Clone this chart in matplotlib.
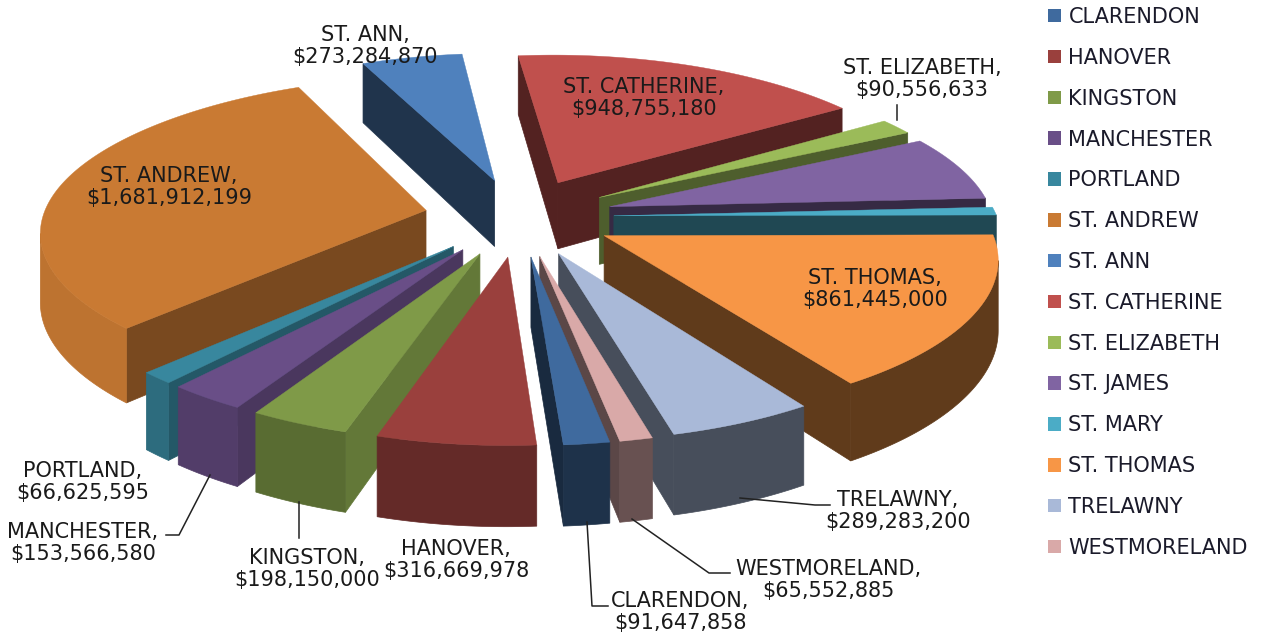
import numpy as np
import matplotlib
matplotlib.use("Agg")
import matplotlib.pyplot as plt
from matplotlib.patches import Polygon, Patch

plt.rcParams['font.family'] = ['DejaVu Sans']

# data (st james and st mary have no label)
parishes = ["CLARENDON", "HANOVER", "KINGSTON", "MANCHESTER", "PORTLAND", "ST. ANDREW", "ST. ANN",
            "ST. CATHERINE", "ST. ELIZABETH", "ST. JAMES", "ST. MARY", "ST. THOMAS", "TRELAWNY",
            "WESTMORELAND"]
values = [91647858, 316669978, 198150000, 153566580, 66625595, 1681912199, 273284870,
          948755180, 90556633, 370000000, 45000000, 861445000, 289283200, 65552885]
colors = ["#3F6A9E", "#9A403D", "#7F9A48", "#694E87", "#38879E", "#C97A33", "#4F81BD",
          "#C0504D", "#9BBB59", "#8064A2", "#4BACC6", "#F79646", "#A9B9D8", "#D9A9A8"]
rim_dark = [0.47, 0.65, 0.70, 0.78, 0.80, 0.94, 0.40, 0.52, 0.50, 0.42, 0.42, 0.39, 0.42, 0.48]
side_dark = [0.40, 0.58, 0.78, 0.70, 0.65, 0.60, 0.40, 0.43, 0.50, 0.42, 0.42, 0.39, 0.42, 0.42]

# label text position, and leader line if there is one
labels = {
    "ST. ANN": (365, 46, None),
    "ST. CATHERINE": (644, 98, None),
    "ST. ELIZABETH": (922, 79, [(897, 105), (897, 120)]),
    "ST. THOMAS": (875, 289, None),
    "ST. ANDREW": (169, 187, None),
    "PORTLAND": (83, 482, None),
    "MANCHESTER": (83, 543, [(166, 535), (179, 535), (210, 475)]),
    "KINGSTON": (307, 569, [(299, 538), (299, 502)]),
    "HANOVER": (456, 560, None),
    "CLARENDON": (680, 612, [(608, 606), (592, 606), (587, 522)]),
    "WESTMORELAND": (828, 580, [(730, 573), (709, 573), (632, 519)]),
    "TRELAWNY": (898, 511, [(830, 505), (815, 505), (740, 498)]),
}

W, H = 1265, 636
cx, cy = 519, 217
R = 372
side_stretch = 0.03
squash = 0.41
persp = 0.13
thick = 68
explode = 95
first_angle = 170


def project(px, py, z=0.0):
    # py goes to the back of the pie
    f = 1 / (1 + persp * py / R)
    return cx + px * f, cy - py * squash * f + z * thick * f


def shade(col, k):
    rgb = np.array(matplotlib.colors.to_rgb(col))
    return tuple(rgb * k)


def signed_area(pts):
    x, y = np.array(pts).T
    return np.sum(x * np.roll(y, -1) - np.roll(x, -1) * y)


fig = plt.figure(figsize=(W / 100, H / 100), dpi=100)
ax = fig.add_axes([0, 0, 1, 1])
ax.set_xlim(0, W)
ax.set_ylim(H, 0)
ax.axis("off")

total = sum(values)
sweeps = np.array(values) / total * 360
starts = first_angle + np.concatenate([[0], np.cumsum(sweeps)[:-1]])
mids = starts + sweeps / 2
# back slices first
order = np.argsort(-np.cos(np.radians(mids)))

for i in order:
    th = np.radians(np.linspace(starts[i], starts[i] + sweeps[i], max(int(sweeps[i]) * 2, 4)))
    mid = np.radians(mids[i])
    ox, oy = explode * np.sin(mid), explode * np.cos(mid)
    rx = R * (1 + side_stretch * np.sin(th) ** 2)
    xs = np.concatenate([[ox], ox + rx * np.sin(th)])
    ys = np.concatenate([[oy], oy + R * np.cos(th)])
    top = [project(a, b) for a, b in zip(xs, ys)]
    bot = [project(a, b, 1) for a, b in zip(xs, ys)]
    n = len(top)

    # straight faces
    side_col = shade(colors[i], side_dark[i])
    for j, k in [(0, 1), (n - 1, 0)]:
        quad = [top[j], top[k], bot[k], bot[j]]
        if signed_area(quad) < 0:
            ax.add_patch(Polygon(quad, closed=True, fc=side_col, ec=side_col, lw=0.5))

    # curved face, only the part turned to the viewer
    seen = [j for j in range(1, n - 1) if signed_area([top[j], top[j + 1], bot[j + 1], bot[j]]) < 0]
    if seen:
        a, b = seen[0], seen[-1] + 1
        rim_col = shade(colors[i], rim_dark[i])
        ax.add_patch(Polygon(top[a:b + 1] + bot[a:b + 1][::-1], closed=True, fc=rim_col, ec=rim_col, lw=0.5))

    ax.add_patch(Polygon(top, closed=True, fc=colors[i], ec=colors[i], lw=0.3))

money = dict(zip(parishes, values))
for name, (tx, ty, leader) in labels.items():
    ax.text(tx, ty, "%s,\n$%s" % (name, format(money[name], ",")), ha="center", va="center",
            fontsize=15, color="#1a1a1a", linespacing=1.1)
    if leader:
        lx, ly = zip(*leader)
        ax.plot(lx, ly, color="#222222", lw=1.1)

handles = [Patch(fc=c, ec="none", label=p) for p, c in zip(parishes, colors)]
ax.legend(handles=handles, loc="upper left", bbox_to_anchor=(1048 / W, 1 - 7 / H), frameon=False,
          fontsize=15, labelspacing=1.0, handlelength=0.63, handleheight=0.63, handletextpad=0.35,
          labelcolor="#1a1a2a", borderaxespad=0, borderpad=0)

plt.savefig("out.png", dpi=100)
